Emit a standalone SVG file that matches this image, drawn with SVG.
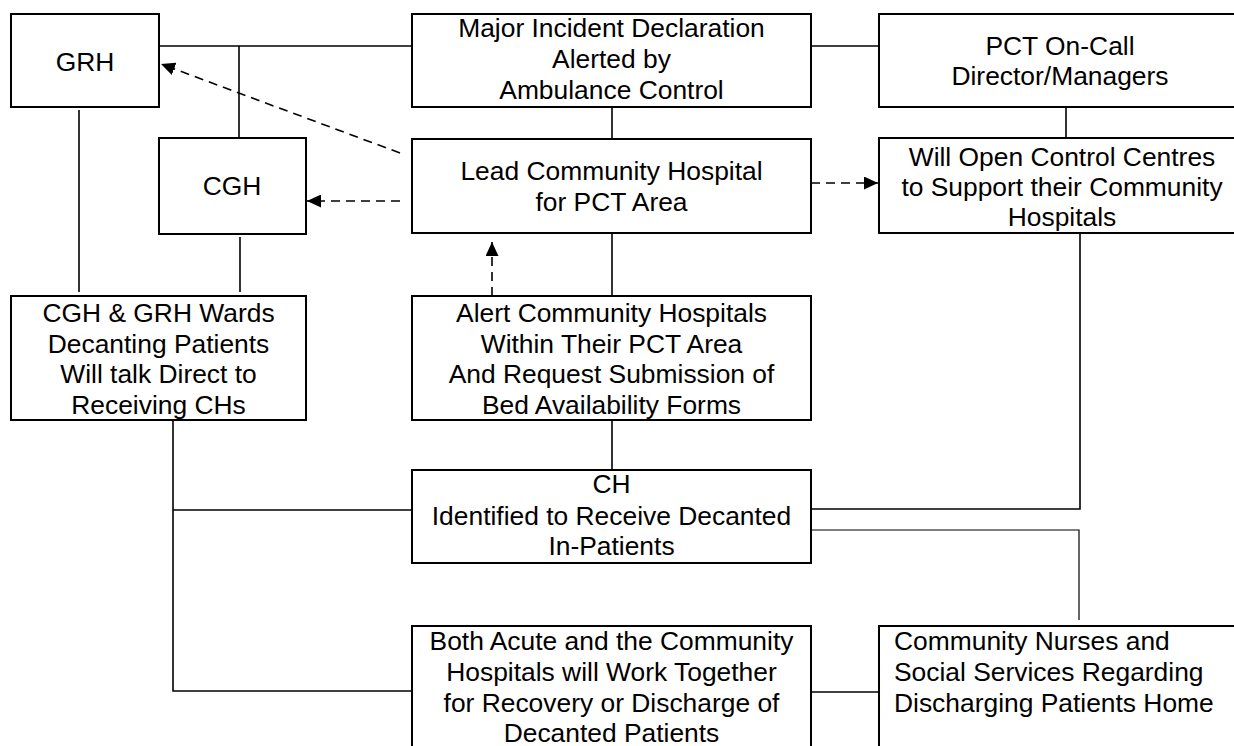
<svg xmlns="http://www.w3.org/2000/svg" width="1234" height="746" viewBox="0 0 1234 746">
<style>
.box{fill:#fff;stroke:#000;stroke-width:2}
.t{font-family:"Liberation Sans",Arial,sans-serif;font-size:26.4px;fill:#000;text-anchor:middle}
.tl{font-family:"Liberation Sans",Arial,sans-serif;font-size:26.4px;fill:#000}
.ln{fill:none;stroke:#000;stroke-width:1.6}
.thin{fill:none;stroke:#000;stroke-width:1.2}
.dash{fill:none;stroke:#000;stroke-width:1.6;stroke-dasharray:9 6}
</style>
<defs>
<marker id="ah" viewBox="0 0 14 13" refX="14" refY="6.5" markerWidth="14" markerHeight="13" markerUnits="userSpaceOnUse" orient="auto">
<path d="M0,0 L14,6.5 L0,13 z" fill="#000"/>
</marker>
</defs>
<rect width="1234" height="746" fill="#fff"/>
<g id="connectors">
<path class="ln" d="M159,46 H412"/>
<path class="ln" d="M239,46 V138"/>
<path class="ln" d="M811,46 H879"/>
<path class="ln" d="M612,107 V139"/>
<path class="ln" d="M1066,107 V138"/>
<path class="ln" d="M79,110 V292"/>
<path class="ln" d="M240,237 V292"/>
<path class="ln" d="M612,233 V296"/>
<path class="ln" d="M612,420 V470"/>
<path class="ln" d="M173,420 V691 H412"/>
<path class="ln" d="M173,510 H412"/>
<path class="ln" d="M1080,233 V509 H811"/>
<path class="thin" d="M811,530 H1079 V620"/>
<path class="ln" d="M811,692 H879"/>
<path class="dash" d="M400,153 L161,64" marker-end="url(#ah)"/>
<path class="dash" d="M400,201 H307" marker-end="url(#ah)"/>
<path class="dash" d="M811,183 H878" marker-end="url(#ah)"/>
<path class="dash" d="M492,296 V242" marker-end="url(#ah)"/>
</g>
<g id="grh">
<rect class="box" x="11" y="14" width="148" height="93"/>
<text class="t" x="85" y="71">GRH</text>
</g>
<g id="cgh">
<rect class="box" x="159" y="138" width="147" height="96"/>
<text class="t" x="232" y="195">CGH</text>
</g>
<g id="major">
<rect class="box" x="412" y="14" width="399" height="93"/>
<text class="t" x="611.5" y="37">Major Incident Declaration</text>
<text class="t" x="611.5" y="68">Alerted by</text>
<text class="t" x="611.5" y="99">Ambulance Control</text>
</g>
<g id="pct">
<rect class="box" x="879" y="14" width="365" height="93"/>
<text class="t" x="1060" y="55">PCT On-Call</text>
<text class="t" x="1060" y="85">Director/Managers</text>
</g>
<g id="lead">
<rect class="box" x="412" y="139" width="399" height="94"/>
<text class="t" x="611.5" y="180">Lead Community Hospital</text>
<text class="t" x="611.5" y="211">for PCT Area</text>
</g>
<g id="control">
<rect class="box" x="879" y="138" width="365" height="95"/>
<text class="t" x="1062" y="166">Will Open Control Centres</text>
<text class="t" x="1062" y="196">to Support their Community</text>
<text class="t" x="1062" y="226">Hospitals</text>
</g>
<g id="wards">
<rect class="box" x="11" y="296" width="295" height="124"/>
<text class="t" x="158.5" y="322">CGH &amp; GRH Wards</text>
<text class="t" x="158.5" y="352.5">Decanting Patients</text>
<text class="t" x="158.5" y="383">Will talk Direct to</text>
<text class="t" x="158.5" y="413.5">Receiving CHs</text>
</g>
<g id="alert">
<rect class="box" x="412" y="296" width="399" height="124"/>
<text class="t" x="611.5" y="322">Alert Community Hospitals</text>
<text class="t" x="611.5" y="352.5">Within Their PCT Area</text>
<text class="t" x="611.5" y="383">And Request Submission of</text>
<text class="t" x="611.5" y="413.5">Bed Availability Forms</text>
</g>
<g id="ch">
<rect class="box" x="412" y="470" width="399" height="93"/>
<text class="t" x="611.5" y="493">CH</text>
<text class="t" x="611.5" y="524.5">Identified to Receive Decanted</text>
<text class="t" x="611.5" y="555">In-Patients</text>
</g>
<g id="both">
<rect class="box" x="412" y="626" width="399" height="140"/>
<text class="t" x="611.5" y="650">Both Acute and the Community</text>
<text class="t" x="611.5" y="681">Hospitals will Work Together</text>
<text class="t" x="611.5" y="712">for Recovery or Discharge of</text>
<text class="t" x="611.5" y="742">Decanted Patients</text>
</g>
<g id="nurses">
<rect class="box" x="879" y="626" width="365" height="140"/>
<text class="tl" x="894" y="650">Community Nurses and</text>
<text class="tl" x="894" y="681">Social Services Regarding</text>
<text class="tl" x="894" y="712">Discharging Patients Home</text>
</g>
</svg>
